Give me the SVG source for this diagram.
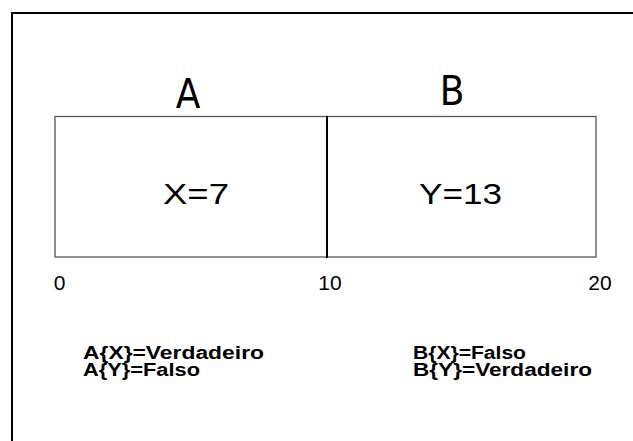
<svg xmlns="http://www.w3.org/2000/svg" width="633" height="441" viewBox="0 0 633 441">
<style>
.big{font-family:"DejaVu Sans Condensed","DejaVu Sans",sans-serif;font-size:40px;font-weight:200;fill:#000}
.val{font-family:"Liberation Sans",Arial,sans-serif;font-size:30px;fill:#000}
.tick{font-family:"Liberation Sans",Arial,sans-serif;font-size:21px;fill:#000}
.lab{font-family:"Liberation Sans",Arial,sans-serif;font-size:18px;font-weight:bold;fill:#000}
.box{fill:none;stroke:#555;stroke-width:1.3}
</style>
<rect width="633" height="441" fill="#fff"/>
<rect x="12" y="13" width="640" height="440" fill="none" stroke="#000" stroke-width="2"/>
<g id="A">
<rect class="box" x="55" y="116.5" width="272" height="140.5"/>
<text class="big" x="188" y="108" text-anchor="middle">A</text>
<text class="val" x="163" y="204" textLength="66" lengthAdjust="spacingAndGlyphs">X=7</text>
</g>
<g id="B">
<rect class="box" x="327" y="116.5" width="269" height="140.5"/>
<text class="big" x="452" y="105" text-anchor="middle">B</text>
<text class="val" x="419" y="204" textLength="83" lengthAdjust="spacingAndGlyphs">Y=13</text>
</g>
<g id="connectors">
<line x1="327" y1="116" x2="327" y2="258" stroke="#000" stroke-width="2"/>
</g>
<g id="axis">
<text class="tick" x="59.5" y="290" text-anchor="middle">0</text>
<text class="tick" x="330" y="290" text-anchor="middle">10</text>
<text class="tick" x="600" y="290" text-anchor="middle">20</text>
</g>
<g id="labels">
<text class="lab" x="83" y="359" textLength="181" lengthAdjust="spacingAndGlyphs">A{X}=Verdadeiro</text>
<text class="lab" x="83" y="376" textLength="117" lengthAdjust="spacingAndGlyphs">A{Y}=Falso</text>
<text class="lab" x="413" y="359" textLength="113" lengthAdjust="spacingAndGlyphs">B{X}=Falso</text>
<text class="lab" x="413" y="376" textLength="179" lengthAdjust="spacingAndGlyphs">B{Y}=Verdadeiro</text>
</g>
</svg>
